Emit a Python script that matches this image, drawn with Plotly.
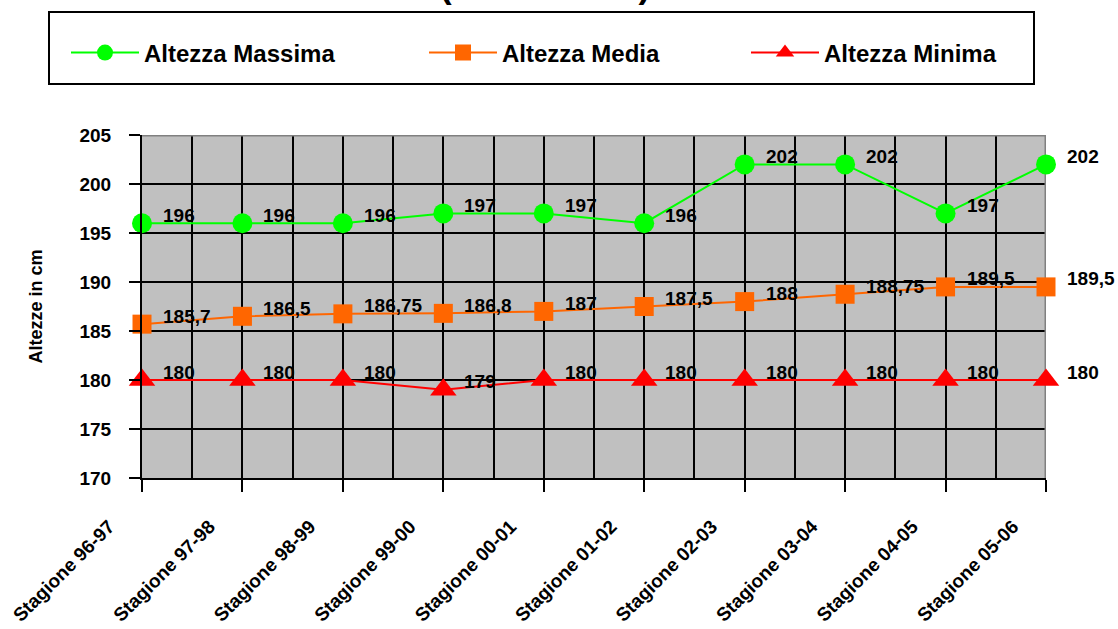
import plotly.graph_objects as go

# Seasons on the x axis
stagioni = [
    "Stagione 96-97", "Stagione 97-98", "Stagione 98-99", "Stagione 99-00",
    "Stagione 00-01", "Stagione 01-02", "Stagione 02-03", "Stagione 03-04",
    "Stagione 04-05", "Stagione 05-06",
]

# Heights in cm per season
altezza_massima = [196, 196, 196, 197, 197, 196, 202, 202, 197, 202]
altezza_media = [185.7, 186.5, 186.75, 186.8, 187, 187.5, 188, 188.75, 189.5, 189.5]
altezza_minima = [180, 180, 180, 179, 180, 180, 180, 180, 180, 180]

y_ticks = [170, 175, 180, 185, 190, 195, 200, 205]

FONT = "Liberation Sans, Arial, sans-serif"
W, H = 1118, 629
ML, MR, MT, MB = 142, 72, 135, 151
PW, PH = W - ML - MR, H - MT - MB


def px_x(px):
    return (px - ML) / PW


def px_y(py):
    return (H - MB - py) / PH


def fmt(v):
    return ("%g" % v).replace(".", ",")


xs = list(range(len(stagioni)))

series = [
    ("Altezza Massima", altezza_massima, "#00FF00", "circle", 20, "legend"),
    ("Altezza Media", altezza_media, "#FF6600", "square", 19, "legend2"),
    ("Altezza Minima", altezza_minima, "#FF0000", "triangle-up", 23, "legend3"),
]

fig = go.Figure()
annotations = []
for name, vals, color, symbol, size, leg in series:
    fig.add_trace(go.Scatter(
        x=xs, y=vals, name=name, mode="lines+markers",
        line=dict(color=color, width=2),
        marker=dict(symbol=symbol, size=size, color=color, line=dict(width=0)),
        cliponaxis=False, legend=leg, showlegend=True,
    ))
    for xi, v in zip(xs, vals):
        annotations.append(dict(
            x=xi, y=v, xref="x", yref="y", text=fmt(v), showarrow=False,
            xanchor="left", yanchor="middle", xshift=19, yshift=8,
            font=dict(family=FONT, size=19, color="black", weight="bold"),
        ))

# title line running off the top edge
annotations.append(dict(
    x=px_x(545), y=px_y(7), xref="paper", yref="paper", text="(1996 - 2006)",
    showarrow=False, xanchor="center", yanchor="bottom",
    font=dict(family=FONT, size=35, color="black", weight="bold"),
))

legend_font = dict(family=FONT, size=24, color="black", weight="bold")
legend_common = dict(
    orientation="h", xref="container", yref="container", xanchor="left",
    yanchor="middle", itemwidth=68, font=legend_font,
    bgcolor="rgba(0,0,0,0)", borderwidth=0,
)

fig.update_layout(
    width=W, height=H, showlegend=True,
    margin=dict(l=ML, r=MR, t=MT, b=MB, pad=0, autoexpand=False),
    paper_bgcolor="white", plot_bgcolor="#C0C0C0",
    font=dict(family=FONT, color="black"),
    legend=dict(x=66 / W, y=1 - 53 / H, **legend_common),
    legend2=dict(x=424 / W, y=1 - 53 / H, **legend_common),
    legend3=dict(x=746 / W, y=1 - 53 / H, **legend_common),
    annotations=annotations,
    shapes=[
        # legend frame
        dict(type="rect", xref="paper", yref="paper",
             x0=px_x(49), x1=px_x(1034), y0=px_y(84), y1=px_y(12),
             line=dict(color="black", width=2), fillcolor="rgba(0,0,0,0)"),
        # grey frame on the top and right of the plot area
        dict(type="line", xref="x", yref="y", x0=0, x1=9, y0=205, y1=205,
             line=dict(color="#808080", width=3), layer="between"),
        dict(type="line", xref="x", yref="y", x0=9, x1=9, y0=170, y1=205,
             line=dict(color="#808080", width=3), layer="between"),
    ],
    xaxis=dict(
        range=[0, 9], tickmode="array", tickvals=xs, ticktext=stagioni,
        tickangle=-45, ticks="outside", ticklen=12, tickwidth=2, tickcolor="black",
        showgrid=True, gridcolor="black", gridwidth=2,
        minor=dict(tickmode="array", tickvals=[i + 0.5 for i in range(9)],
                   showgrid=True, gridcolor="black", gridwidth=2, ticks=""),
        showline=True, linecolor="black", linewidth=2, zeroline=False,
        tickfont=dict(family=FONT, size=19, color="black", weight="bold"),
        ticklabelstandoff=16, ticklabelshift=-33, fixedrange=True,
        automargin=False,
    ),
    yaxis=dict(
        range=[170, 205], tickmode="array", tickvals=y_ticks,
        ticks="outside", ticklen=11, tickwidth=2, tickcolor="black",
        showgrid=True, gridcolor="black", gridwidth=2,
        showline=True, linecolor="black", linewidth=2, zeroline=False,
        tickfont=dict(family=FONT, size=19, color="black", weight="bold"),
        ticklabelstandoff=14,
        title=dict(text="Altezze in cm", standoff=32,
                   font=dict(family=FONT, size=18, color="black", weight="bold")),
        fixedrange=True, automargin=False,
    ),
)

fig.write_html("out.html")
